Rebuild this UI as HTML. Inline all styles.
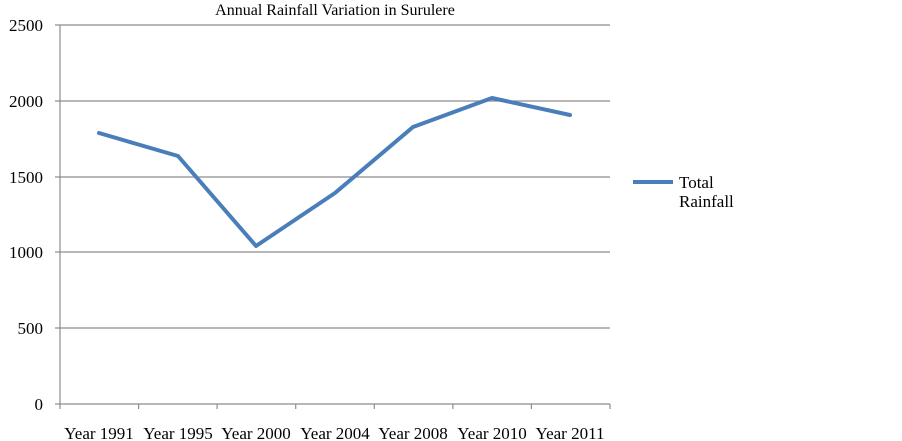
<!DOCTYPE html>
<html><head><style>
body{margin:0;background:#fff;}
svg{display:block;font-family:"Liberation Serif",serif;}
</style></head><body>
<svg width="902" height="441" viewBox="0 0 902 441" xmlns="http://www.w3.org/2000/svg">
<text x="335" y="15" font-size="16" text-anchor="middle">Annual Rainfall Variation in Surulere</text>
<g stroke="#8c8c8c" stroke-width="1.2">
<line x1="60" y1="25" x2="610" y2="25"/>
<line x1="60" y1="101" x2="610" y2="101"/>
<line x1="60" y1="177" x2="610" y2="177"/>
<line x1="60" y1="252" x2="610" y2="252"/>
<line x1="60" y1="328" x2="610" y2="328"/>
<line x1="60" y1="404" x2="610" y2="404"/>
<line x1="60" y1="25" x2="60" y2="409"/>
<line x1="55" y1="25" x2="60" y2="25"/>
<line x1="55" y1="101" x2="60" y2="101"/>
<line x1="55" y1="177" x2="60" y2="177"/>
<line x1="55" y1="252" x2="60" y2="252"/>
<line x1="55" y1="328" x2="60" y2="328"/>
<line x1="55" y1="404" x2="60" y2="404"/>
<line x1="138.6" y1="404" x2="138.6" y2="409"/>
<line x1="217.1" y1="404" x2="217.1" y2="409"/>
<line x1="295.7" y1="404" x2="295.7" y2="409"/>
<line x1="374.3" y1="404" x2="374.3" y2="409"/>
<line x1="452.9" y1="404" x2="452.9" y2="409"/>
<line x1="531.4" y1="404" x2="531.4" y2="409"/>
<line x1="610" y1="404" x2="610" y2="409"/>
</g>
<g font-size="17" text-anchor="end">
<text x="43" y="31">2500</text>
<text x="43" y="107">2000</text>
<text x="43" y="183">1500</text>
<text x="43" y="258">1000</text>
<text x="43" y="334">500</text>
<text x="43" y="410">0</text>
</g>
<g font-size="17" text-anchor="middle">
<text x="99" y="439">Year 1991</text>
<text x="178" y="439">Year 1995</text>
<text x="256" y="439">Year 2000</text>
<text x="335" y="439">Year 2004</text>
<text x="413" y="439">Year 2008</text>
<text x="492" y="439">Year 2010</text>
<text x="570" y="439">Year 2011</text>
</g>
<polyline points="99,133 178,156 256,246 335,193 413,127 492,98 570,115" fill="none" stroke="#4a7ebb" stroke-width="4" stroke-linejoin="round" stroke-linecap="round"/>
<line x1="633" y1="182" x2="673" y2="182" stroke="#4a7ebb" stroke-width="4"/>
<text x="679" y="188" font-size="17">Total</text>
<text x="679" y="207" font-size="17">Rainfall</text>
</svg>
</body></html>
